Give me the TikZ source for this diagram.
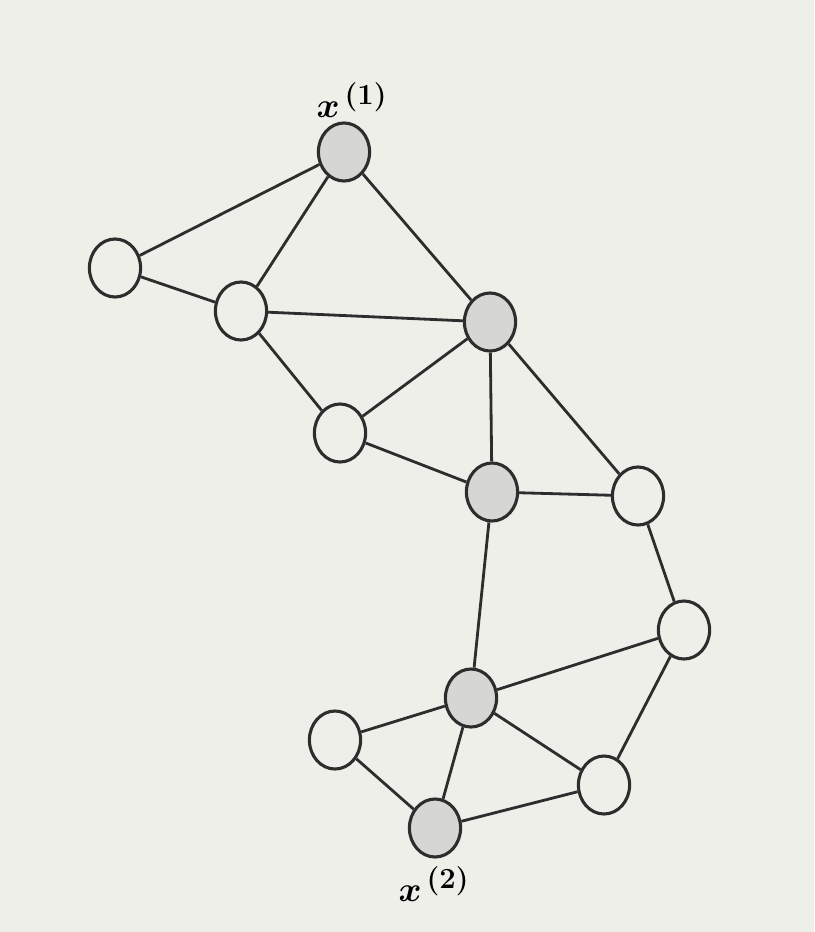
\documentclass[tikz,border=0pt]{standalone}
\usepackage{amsmath}
\usepackage{bm}
\usepackage{tikz}
\usetikzlibrary{shapes.geometric}
\definecolor{paper}{RGB}{239,239,234}
\definecolor{shade}{RGB}{214,214,210}
\definecolor{ink}{RGB}{45,45,45}

\tikzset{
    vtx/.style={ellipse, draw=ink, line width=2.2pt, fill=paper,
        minimum width=1.28cm, minimum height=1.45cm, inner sep=0pt},
    obs/.style={vtx, fill=shade},
    edge/.style={draw=ink, line width=2pt},
    lbl/.style={font=\fontsize{28}{30}\selectfont}
}

\begin{document}
\begin{tikzpicture}[x=0.025cm, y=-0.025cm]

    % paper
    \fill[paper] (0,0) rectangle (814,932);
    \useasboundingbox (0,0) rectangle (814,932);

    % === Vertices ===
    \node[obs] (x1) at (344,152) {};
    \node[vtx] (a)  at (115,268) {};
    \node[vtx] (b)  at (241,311) {};
    \node[obs] (c)  at (490,322) {};
    \node[vtx] (d)  at (340,433) {};
    \node[obs] (e)  at (492,492) {};
    \node[vtx] (f)  at (638,496) {};
    \node[vtx] (g)  at (684,630) {};
    \node[obs] (h)  at (471,698) {};
    \node[vtx] (i)  at (335,740) {};
    \node[vtx] (j)  at (604,785) {};
    \node[obs] (x2) at (435,828) {};

    % Labels
    \node[lbl] (l1) at (352,100) {$\bm{x}^{\,\bm{(1)}}$};
    \node[lbl] (l2) at (434,884) {$\bm{x}^{\,\bm{(2)}}$};

    % === Edges ===
    \foreach \u/\v in {x1/a, x1/b, x1/c, a/b, b/c, b/d, c/d, c/e, c/f,
                       d/e, e/f, e/h, f/g, g/h, g/j, h/i, h/x2, h/j,
                       i/x2, x2/j} {
        \draw[edge] (\u) -- (\v);
    }

\end{tikzpicture}
\end{document}
